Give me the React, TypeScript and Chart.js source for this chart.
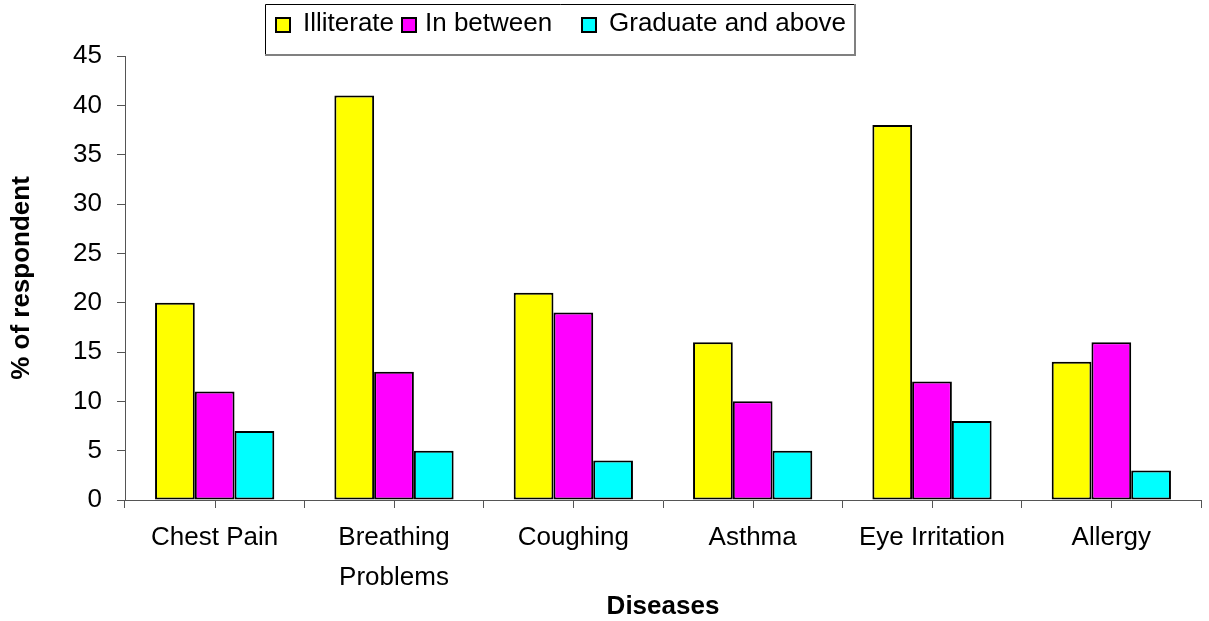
import React, { useEffect, useRef } from "react";
import { Chart, registerables } from "chart.js";

Chart.register(...registerables);

const categories: (string | string[])[] = [
  "Chest Pain",
  ["Breathing", "Problems"],
  "Coughing",
  "Asthma",
  "Eye Irritation",
  "Allergy",
];
const illiterate = [20, 41, 21, 16, 38, 14];
const inBetween = [11, 13, 19, 10, 12, 16];
const graduate = [7, 5, 4, 5, 8, 3];
const seriesLabels = ["Illiterate", "In between", "Graduate and above"];
const seriesColors = ["#FFFF00", "#FF00FF", "#00FFFF"];

const FONT = "'Liberation Sans', Arial, sans-serif";

const legendPlugin = {
  id: "customLegend",
  afterDraw(chart: any) {
    const ctx = chart.ctx;
    ctx.save();
    // frame
    const fx = 265, fy = 4, fr = 855, fb = 55;
    ctx.fillStyle = "#ffffff";
    ctx.fillRect(fx, fy, fr - fx, fb - fy);
    ctx.strokeStyle = "#000000";
    ctx.lineWidth = 1;
    ctx.beginPath();
    ctx.moveTo(fx + 0.5, fb);
    ctx.lineTo(fx + 0.5, fy + 0.5);
    ctx.lineTo(fr, fy + 0.5);
    ctx.stroke();
    ctx.strokeStyle = "#808080";
    ctx.lineWidth = 2;
    ctx.beginPath();
    ctx.moveTo(fr, fy);
    ctx.lineTo(fr, fb);
    ctx.lineTo(fx, fb);
    ctx.stroke();
    const boxX = [276, 402, 582];
    const textX = [303, 425, 609];
    ctx.font = `26px ${FONT}`;
    ctx.textBaseline = "middle";
    ctx.textAlign = "left";
    chart.data.datasets.forEach((ds: any, i: number) => {
      ctx.fillStyle = ds.backgroundColor;
      ctx.fillRect(boxX[i], 18, 14, 14);
      ctx.strokeStyle = "#000";
      ctx.lineWidth = 2;
      ctx.strokeRect(boxX[i], 18, 14, 14);
      ctx.fillStyle = "#000";
      ctx.fillText(ds.label, textX[i], 24);
    });
    ctx.restore();
  },
};

const centerTicksPlugin = {
  id: "centerTicks",
  afterDraw(chart: any) {
    const ctx = chart.ctx;
    const xs = chart.scales.x;
    const y0 = chart.chartArea.bottom;
    ctx.save();
    ctx.strokeStyle = "#555";
    ctx.lineWidth = 1;
    for (let i = 0; i < chart.data.labels.length; i++) {
      const x = Math.round(xs.getPixelForValue(i)) + 0.5;
      ctx.beginPath();
      ctx.moveTo(x, y0);
      ctx.lineTo(x, y0 + 8);
      ctx.stroke();
    }
    ctx.restore();
  },
};

export default function App() {
  const ref = useRef<HTMLCanvasElement | null>(null);
  useEffect(() => {
    if (!ref.current) return;
    const data = [illiterate, inBetween, graduate];
    const chart = new Chart(ref.current, {
      type: "bar",
      data: {
        labels: categories,
        datasets: data.map((d, i) => ({
          label: seriesLabels[i],
          data: d,
          backgroundColor: seriesColors[i],
          borderColor: "#000000",
          borderWidth: 2,
          borderSkipped: false,
          categoryPercentage: 0.665,
          barPercentage: 1,
        })),
      },
      options: {
        responsive: false,
        animation: false,
        layout: { padding: { top: 56, right: 8, left: 0, bottom: 0 } },
        plugins: {
          legend: { display: false },
          tooltip: { enabled: false },
        },
        scales: {
          x: {
            offset: true,
            grid: {
              offset: true,
              drawOnChartArea: false,
              tickLength: 8,
              color: "#555",
            },
            border: { color: "#555", width: 1 },
            ticks: {
              color: "#000",
              font: { family: FONT, size: 26, lineHeight: 1.54 },
              padding: 10,
              maxRotation: 0,
              autoSkip: false,
            },
            title: {
              display: true,
              text: "Diseases",
              color: "#000",
              font: { family: FONT, size: 26, weight: "bold", lineHeight: 1.1 },
              padding: { top: 0, bottom: 0 },
            },
            afterFit: (s: any) => {
              s.height = 121;
            },
          },
          y: {
            min: 0,
            max: 45,
            ticks: {
              stepSize: 5,
              color: "#000",
              font: { family: FONT, size: 26 },
              padding: 15,
            },
            grid: {
              drawOnChartArea: false,
              tickLength: 8,
              color: "#555",
            },
            border: { color: "#555", width: 1 },
            title: {
              display: true,
              text: "% of respondent",
              color: "#000",
              font: { family: FONT, size: 26, weight: "bold", lineHeight: 1.2 },
              padding: { top: 6, bottom: 0 },
            },
            afterFit: (s: any) => {
              s.width = 125;
            },
          },
        },
      },
      plugins: [legendPlugin, centerTicksPlugin],
    });
    return () => chart.destroy();
  }, []);
  return (
    <div style={{ width: 1209, height: 621 }}>
      <style>{"body{margin:0;}"}</style>
      <canvas ref={ref} width={1209} height={621} style={{ display: "block" }} />
    </div>
  );
}
